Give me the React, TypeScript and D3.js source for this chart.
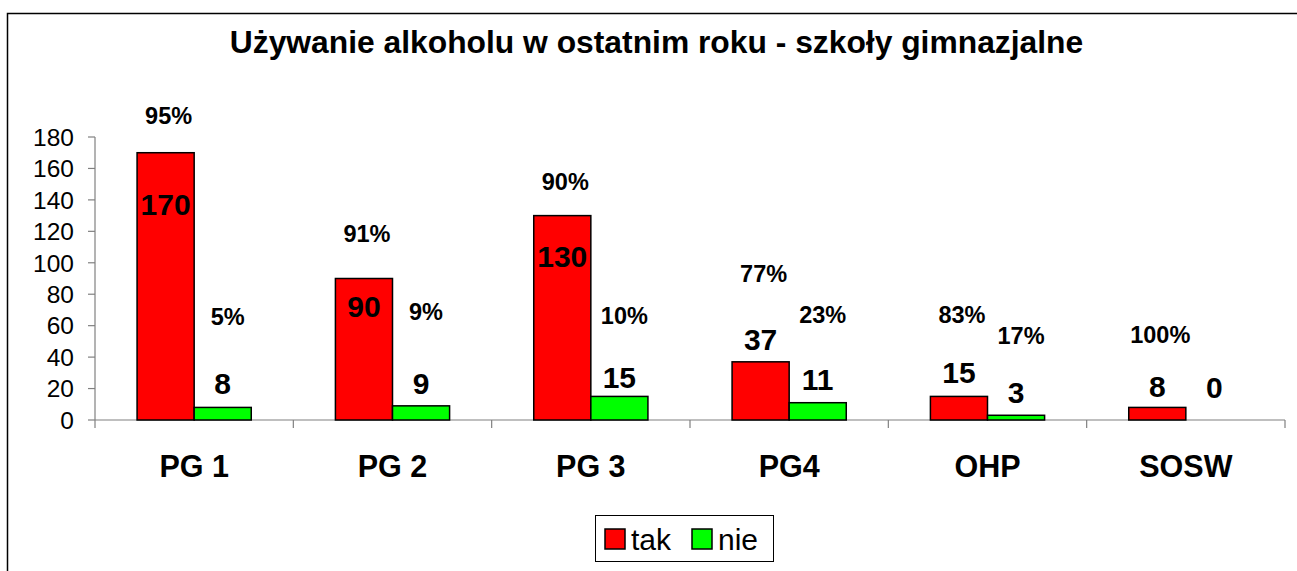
import React from "react";
import * as d3 from "d3";

const title = "Używanie alkoholu w ostatnim roku - szkoły gimnazjalne";
const categories = ["PG 1", "PG 2", "PG 3", "PG4", "OHP", "SOSW"];
const seriesNames = ["tak", "nie"];
const takValues = [170, 90, 130, 37, 15, 8];
const nieValues = [8, 9, 15, 11, 3, 0];
const takPercent = ["95%", "91%", "90%", "77%", "83%", "100%"];
const niePercent = ["5%", "9%", "10%", "23%", "17%", ""];
// label anchor levels (in value units) as placed in the original chart
const takValueLabelLevel = [137, 72.5, 104, 51.2, 30.2, 21.6];
const nieValueLabelLevel = [23.5, 23.5, 27.3, 25.8, 17.5, 20.7];
const takPercentLevel = [193.7, 118.6, 151.7, 92.9, 66.8, 54.4];
const niePercentLevel = [65.5, 69.3, 66.5, 66.8, 53.7, 0];
const yTicks = [0, 20, 40, 60, 80, 100, 120, 140, 160, 180];
const colors = ["#ff0000", "#00ff00"];

const W = 1297;
const H = 571;
const FONT = "'Liberation Sans', Arial, sans-serif";

export default function App() {
  const left = 95;
  const right = 1285;
  const y = d3.scaleLinear().domain([0, 180]).range([420, 137]);
  const x0 = d3.scaleBand<string>().domain(categories).range([left, right]).paddingInner(0).paddingOuter(0);
  const x1 = d3
    .scaleBand<string>()
    .domain(seriesNames)
    .range([0, x0.bandwidth()])
    .paddingInner(0)
    .paddingOuter(0.737);
  const bw = x1.bandwidth();
  const series = [takValues, nieValues];
  const valLevels = [takValueLabelLevel, nieValueLabelLevel];
  const pcts = [takPercent, niePercent];
  const pctLevels = [takPercentLevel, niePercentLevel];
  const pctDx = [3, 5];
  const axisColor = "#808080";

  return (
    <div style={{ position: "absolute", left: 0, top: 0 }}>
      <svg width={W} height={H} style={{ display: "block" }} fontFamily={FONT}>
        <rect x={0} y={0} width={W} height={H} fill="#fff" />
        <rect x={7.5} y={13.5} width={W + 10} height={H + 10} fill="none" stroke="#000" strokeWidth={1.5} />
        <text x={656.5} y={53} textAnchor="middle" fontSize={31.8} fontWeight="bold" fill="#000">
          {title}
        </text>

        {/* y axis */}
        <line x1={left} x2={left} y1={y(180)} y2={428} stroke={axisColor} strokeWidth={1.2} />
        {yTicks.map((t) => (
          <g key={t}>
            <line x1={88} x2={left} y1={y(t)} y2={y(t)} stroke={axisColor} strokeWidth={1.2} />
            <text x={74} y={y(t)} dy="0.36em" textAnchor="end" fontSize={24.5} fill="#000">
              {t}
            </text>
          </g>
        ))}

        {/* x axis */}
        <line x1={left} x2={right} y1={y(0)} y2={y(0)} stroke={axisColor} strokeWidth={1.2} />
        {categories.map((c) => (
          <line
            key={"t" + c}
            x1={(x0(c) as number) + x0.bandwidth()}
            x2={(x0(c) as number) + x0.bandwidth()}
            y1={y(0)}
            y2={428}
            stroke={axisColor}
            strokeWidth={1.2}
          />
        ))}
        {categories.map((c) => (
          <text
            key={"c" + c}
            x={(x0(c) as number) + x0.bandwidth() / 2}
            y={477}
            textAnchor="middle"
            fontSize={30.5}
            fontWeight="bold"
            fill="#000"
          >
            {c}
          </text>
        ))}

        {/* bars */}
        {categories.map((c, i) =>
          seriesNames.map((s, si) => {
            const v = series[si][i];
            if (v === 0) return null;
            const bx = (x0(c) as number) + (x1(s) as number);
            return (
              <rect
                key={c + s}
                x={bx}
                y={y(v)}
                width={bw}
                height={y(0) - y(v)}
                fill={colors[si]}
                stroke="#000"
                strokeWidth={1.5}
              />
            );
          })
        )}

        {/* value labels */}
        {categories.map((c, i) =>
          seriesNames.map((s, si) => {
            const cx = (x0(c) as number) + (x1(s) as number) + bw / 2;
            return (
              <g key={"l" + c + s}>
                <text
                  x={cx}
                  y={y(valLevels[si][i])}
                  dy="0.36em"
                  textAnchor="middle"
                  fontSize={30}
                  fontWeight="bold"
                  fill="#000"
                >
                  {series[si][i]}
                </text>
                {pcts[si][i] && (
                  <text
                    x={cx + pctDx[si]}
                    y={y(pctLevels[si][i])}
                    dy="0.36em"
                    textAnchor="middle"
                    fontSize={23.5}
                    fontWeight="bold"
                    fill="#000"
                  >
                    {pcts[si][i]}
                  </text>
                )}
              </g>
            );
          })
        )}

        {/* legend */}
        <rect x={595.5} y={515.5} width={178} height={46} fill="#fff" stroke="#000" strokeWidth={1} />
        {seriesNames.map((s, si) => {
          const lx = si === 0 ? 605 : 692;
          return (
            <g key={"lg" + s}>
              <rect x={lx} y={529} width={20} height={20} fill={colors[si]} stroke="#000" strokeWidth={1.5} />
              <text x={lx + 26} y={550} fontSize={30} fill="#000">
                {s}
              </text>
            </g>
          );
        })}
      </svg>
    </div>
  );
}
